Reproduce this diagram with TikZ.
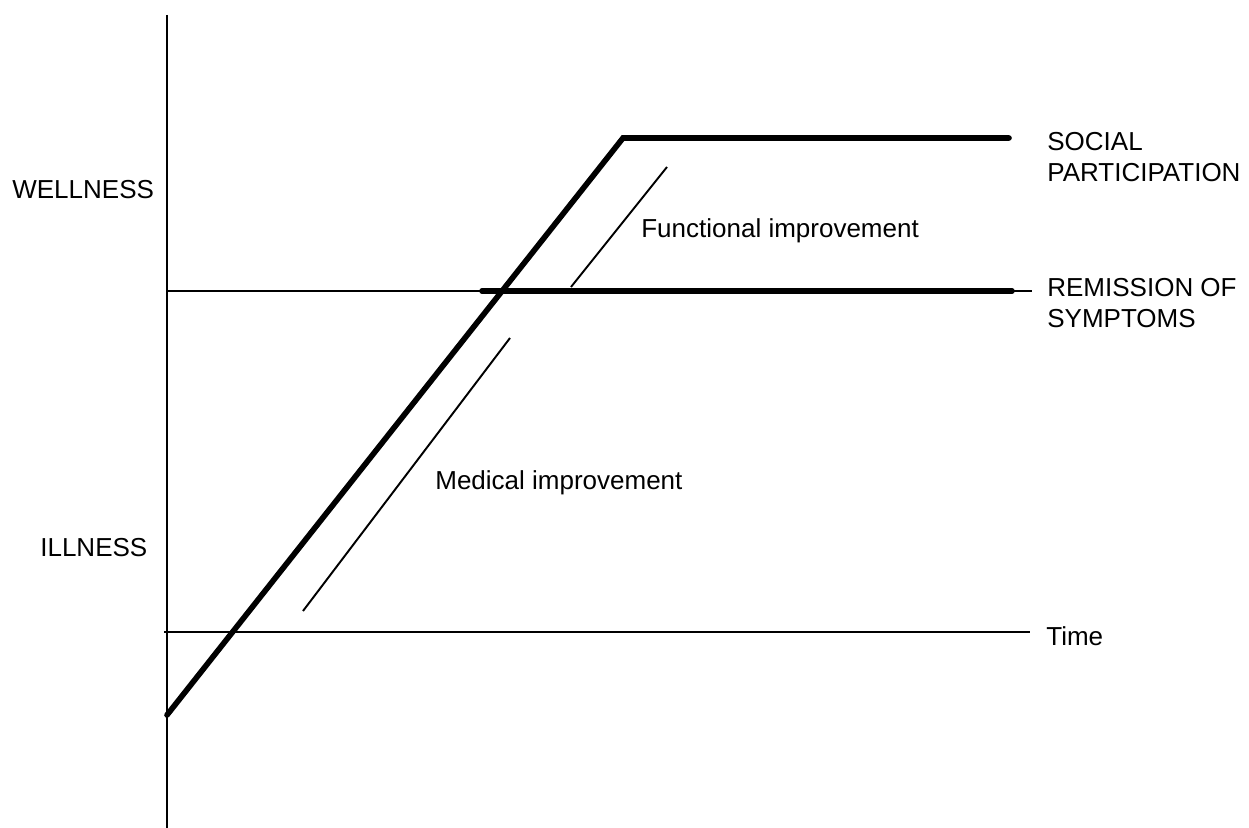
\documentclass[tikz,border=0pt]{standalone}
\usepackage{fontspec}
\setmainfont{Liberation Sans}

\begin{document}
\begin{tikzpicture}[x=0.02cm, y=-0.02cm,
  thinline/.style={line width=1.1pt},
  thickline/.style={line width=3.2pt, line cap=round},
  lbl/.style={inner sep=0pt, align=left, font=\fontsize{14.8pt}{17.6pt}\selectfont}]
\useasboundingbox (0,0) rectangle (1249,828);
% axes
\draw[thinline] (167,15) coordinate (y top) -- (167,828) coordinate (y bottom);
\draw[thinline] (164,632) coordinate (t start) -- (1030,632) coordinate (t end);
\draw[thinline] (167,291) coordinate (r start) -- (1032,291) coordinate (r end);
% recovery curve
\draw[thickline] (167,715) coordinate (c start) -- (623,138) coordinate (c top) -- (1009,138) coordinate (s end);
\draw[thickline] (482,291) coordinate (m start) -- (1012,291) coordinate (m end);
% improvement markers
\draw[thinline] (303,611) coordinate (med a) -- (510,338) coordinate (med b);
\draw[thinline] (571,287) coordinate (fun a) -- (667,167) coordinate (fun b);
% labels
\node[lbl, anchor=base west] (wellness) at (12,199) {WELLNESS};
\node[lbl, anchor=base west] (illness) at (40,556) {ILLNESS};
\node[lbl, anchor=north west] (social) at (1047,132) {SOCIAL\\PARTICIPATION};
\node[lbl, anchor=north west] (remission) at (1047,278) {REMISSION OF\\SYMPTOMS};
\node[lbl, anchor=base west] (time) at (1046,645) {Time};
\node[lbl, anchor=base west] (functional) at (641,237) {Functional improvement};
\node[lbl, anchor=base west] (medical) at (435,489) {Medical improvement};
\end{tikzpicture}
\end{document}
